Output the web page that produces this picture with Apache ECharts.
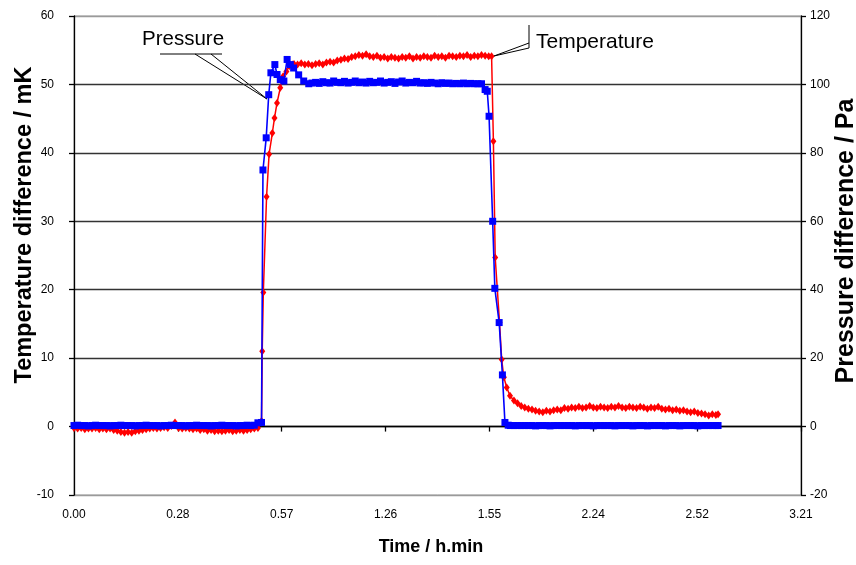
<!DOCTYPE html>
<html>
<head>
<meta charset="utf-8">
<title>Temperature and pressure difference</title>
<script src="https://cdn.jsdelivr.net/npm/echarts@6/dist/echarts.min.js"></script>
<style>
  html, body { margin: 0; padding: 0; background: #fff; }
  #chart { width: 856px; height: 565px; }
</style>
</head>
<body>
<div id="chart"></div>
<script>
// Time axis: minutes since start, labelled in h.min
const xTickLabels = ['0.00', '0.28', '0.57', '1.26', '1.55', '2.24', '2.52', '3.21'];

// Temperature difference (mK), left axis
const tempTime = [
  0, 1, 2, 3, 4, 5, 6, 7, 8, 9,
  10, 11, 12, 13, 14, 15, 16, 17, 18, 19,
  20, 21, 22, 23, 24, 25, 26, 27, 28, 29,
  30, 31, 32, 33, 34, 35, 36, 37, 38, 39,
  40, 41, 42, 43, 44, 45, 46, 47, 48, 49,
  50, 51, 52, 52.2, 52.5, 53.4, 54.1, 55.0, 55.6, 56.3,
  57.2, 58.0, 58.9, 59.7, 60.6, 61, 62, 63, 64, 65,
  66, 67, 68, 69, 70, 71, 72, 73, 74, 75,
  76, 77, 78, 79, 80, 81, 82, 83, 84, 85,
  86, 87, 88, 89, 90, 91, 92, 93, 94, 95,
  96, 97, 98, 99, 100, 101, 102, 103, 104, 105,
  106, 107, 108, 109, 110, 111, 112, 113, 114, 115,
  115.8, 116.3, 116.8, 118.0, 118.6, 119.2, 120.0, 120.9, 122, 123,
  124, 125, 126, 127, 128, 129, 130, 131, 132, 133,
  134, 135, 136, 137, 138, 139, 140, 141, 142, 143,
  144, 145, 146, 147, 148, 149, 150, 151, 152, 153,
  154, 155, 156, 157, 158, 159, 160, 161, 162, 163,
  164, 165, 166, 167, 168, 169, 170, 171, 172, 173,
  174, 175, 176, 177, 178, 178.6
];
const tempVals = [
  -0.2, -0.3, -0.2, -0.4, -0.3, -0.3, -0.2, -0.4, -0.3, -0.4,
  -0.3, -0.5, -0.6, -0.8, -0.9, -0.8, -0.9, -0.7, -0.6, -0.5,
  -0.4, -0.3, -0.2, -0.3, -0.2, -0.1, -0.2, 0.1, 0.6, -0.2,
  -0.3, -0.2, -0.3, -0.4, -0.3, -0.5, -0.4, -0.6, -0.5, -0.7,
  -0.6, -0.7, -0.6, -0.5, -0.7, -0.6, -0.5, -0.6, -0.5, -0.4,
  -0.3, -0.2, 0.8, 11.0, 19.6, 33.6, 39.8, 42.9, 45.1, 47.3,
  49.5, 51.2, 51.9, 52.7, 52.9, 53.0, 52.9, 53.1, 52.9, 53.0,
  52.8, 53.0, 53.1, 52.9, 53.2, 53.3, 53.2, 53.5, 53.6, 53.8,
  53.7, 54.0, 54.1, 54.3, 54.2, 54.4, 54.1, 54.0, 54.2, 53.9,
  54.0, 53.8, 54.0, 53.9, 53.8, 54.0, 53.9, 54.1, 53.8, 54.0,
  53.9, 54.1, 54.0, 53.9, 54.2, 54.0, 54.1, 53.9, 54.2, 54.1,
  54.0, 54.2, 54.1, 54.3, 54.0, 54.2, 54.1, 54.3, 54.2, 54.1,
  54.1, 41.7, 24.7, 15.2, 9.8, 7.2, 5.7, 4.5, 3.8, 3.4,
  3.0, 2.8, 2.6, 2.5, 2.3, 2.2, 2.1, 2.3, 2.2, 2.4,
  2.5, 2.4, 2.7, 2.6, 2.8, 2.7, 2.9, 2.7, 2.8, 3.0,
  2.8, 2.7, 2.9, 2.8, 2.7, 2.9, 2.8, 3.0, 2.8, 2.7,
  2.9, 2.8, 2.7, 2.9, 2.8, 2.6, 2.8, 2.7, 2.9, 2.6,
  2.5, 2.6, 2.4, 2.5, 2.3, 2.4, 2.2, 2.1, 2.2, 2.0,
  1.9, 1.8, 1.6, 1.8, 1.7, 1.8
];

// Pressure difference (Pa), right axis
const presTime = [
  0, 1, 2, 3, 4, 5, 6, 7, 8, 9,
  10, 11, 12, 13, 14, 15, 16, 17, 18, 19,
  20, 21, 22, 23, 24, 25, 26, 27, 28, 29,
  30, 31, 32, 33, 34, 35, 36, 37, 38, 39,
  40, 41, 42, 43, 44, 45, 46, 47, 48, 49,
  50, 51, 52, 52.4, 53.3, 54.0, 54.6, 55.7, 56.3, 57.2,
  58.2, 59.1, 60.0, 60.9, 62.3, 63.7, 65.1, 66, 67, 68,
  69, 70, 71, 72, 73, 74, 75, 76, 77, 78,
  79, 80, 81, 82, 83, 84, 85, 86, 87, 88,
  89, 90, 91, 92, 93, 94, 95, 96, 97, 98,
  99, 100, 101, 102, 103, 104, 105, 106, 107, 108,
  109, 110, 111, 112, 113, 114.0, 114.6, 115.1, 116.1, 116.7,
  117.9, 118.8, 119.5, 120.4, 121, 122, 123, 124, 125, 126,
  127, 128, 129, 130, 131, 132, 133, 134, 135, 136,
  137, 138, 139, 140, 141, 142, 143, 144, 145, 146,
  147, 148, 149, 150, 151, 152, 153, 154, 155, 156,
  157, 158, 159, 160, 161, 162, 163, 164, 165, 166,
  167, 168, 169, 170, 171, 172, 173, 174, 175, 176,
  177, 178, 178.6
];
const presVals = [
  0.3, 0.4, 0.3, 0.3, 0.2, 0.3, 0.4, 0.3, 0.3, 0.3,
  0.2, 0.3, 0.3, 0.4, 0.3, 0.3, 0.3, 0.2, 0.3, 0.3,
  0.4, 0.3, 0.3, 0.3, 0.2, 0.3, 0.3, 0.4, 0.3, 0.3,
  0.3, 0.2, 0.3, 0.3, 0.4, 0.3, 0.3, 0.3, 0.2, 0.3,
  0.3, 0.4, 0.3, 0.3, 0.3, 0.2, 0.3, 0.3, 0.4, 0.3,
  0.4, 1.1, 1.2, 75.0, 84.4, 97.0, 103.4, 105.8, 102.9, 101.4,
  101.0, 107.3, 105.8, 104.8, 102.8, 101.0, 100.2, 100.4, 100.6, 100.3,
  100.8, 100.5, 100.4, 101.0, 100.6, 100.5, 100.9, 100.4, 100.6, 101.0,
  100.5, 100.7, 100.4, 100.9, 100.5, 100.6, 101.0, 100.4, 100.6, 100.8,
  100.3, 100.7, 101.0, 100.4, 100.6, 100.5, 100.9, 100.4, 100.5, 100.3,
  100.6, 100.4, 100.2, 100.5, 100.3, 100.4, 100.2, 100.3, 100.2, 100.4,
  100.2, 100.3, 100.2, 100.2, 100.2, 98.5, 98.0, 90.7, 60.0, 40.4,
  30.4, 15.1, 1.2, 0.4, 0.3, 0.3, 0.3, 0.3, 0.3, 0.3,
  0.3, 0.2, 0.3, 0.3, 0.3, 0.2, 0.3, 0.3, 0.3, 0.3,
  0.3, 0.3, 0.2, 0.3, 0.3, 0.3, 0.3, 0.2, 0.3, 0.3,
  0.3, 0.3, 0.3, 0.2, 0.3, 0.3, 0.3, 0.3, 0.2, 0.3,
  0.3, 0.3, 0.2, 0.3, 0.3, 0.3, 0.3, 0.2, 0.3, 0.3,
  0.3, 0.2, 0.3, 0.3, 0.3, 0.3, 0.2, 0.3, 0.3, 0.3,
  0.3, 0.3, 0.3
];

const pairs = (ts, vs) => ts.map((t, i) => [t, vs[i]]);

const tickFont = "'Liberation Sans Narrow', 'Arial Narrow', 'Liberation Sans', Arial, sans-serif";
const titleFont = "'Liberation Sans', Arial, sans-serif";
const gridGray = '#9a9a9a';
const gridDark = '#333';

const chart = echarts.init(document.getElementById('chart'), null, { renderer: 'canvas' });

const xCommon = {
  type: 'value',
  min: 0,
  max: 201.6,
  interval: 28.8,
  splitLine: { show: false }
};

chart.setOption({
  animation: false,
  backgroundColor: '#fff',
  grid: {
    left: 74, right: 55, top: 16, bottom: 70,
    show: true, borderColor: gridGray, borderWidth: 1,
    containLabel: false
  },
  xAxis: [
    Object.assign({}, xCommon, {
      position: 'bottom',
      axisLine: { show: false, onZero: false },
      axisTick: { show: false },
      axisLabel: {
        margin: 14, color: '#000', fontSize: 12, fontFamily: tickFont,
        formatter: v => xTickLabels[Math.round(v / 28.8)] || ''
      }
    }),
    Object.assign({}, xCommon, {
      position: 'bottom',
      axisLine: { show: true, onZero: true, onZeroAxisIndex: 0, lineStyle: { color: '#000', width: 1.3 } },
      axisTick: { show: true, length: 5, lineStyle: { color: '#000', width: 1.3 } },
      axisLabel: { show: false }
    })
  ],
  yAxis: [
    {
      type: 'value', position: 'left',
      min: -10, max: 60, interval: 10,
      axisLine: { show: true, onZero: false, lineStyle: { color: '#000', width: 1.3 } },
      axisTick: { show: true, length: 5, lineStyle: { color: '#000', width: 1.3 } },
      axisLabel: { margin: 20, color: '#000', fontSize: 12, fontFamily: tickFont },
      splitLine: {
        show: true,
        lineStyle: {
          color: [gridGray, gridDark, gridDark, gridDark, gridDark, gridDark, gridDark, gridGray],
          width: 1.4
        }
      }
    },
    {
      type: 'value', position: 'right',
      min: -20, max: 120, interval: 20,
      axisLine: { show: true, onZero: false, lineStyle: { color: '#000', width: 1.3 } },
      axisTick: { show: true, length: 5, lineStyle: { color: '#000', width: 1.3 } },
      axisLabel: { margin: 9, color: '#000', fontSize: 12, fontFamily: tickFont },
      splitLine: { show: false }
    }
  ],
  series: [
    {
      name: 'Temperature',
      type: 'line',
      xAxisIndex: 0, yAxisIndex: 0,
      data: pairs(tempTime, tempVals),
      symbol: 'diamond', symbolSize: [6, 8],
      showAllSymbol: true,
      itemStyle: { color: '#ff0000' },
      lineStyle: { color: '#ff0000', width: 1.5 },
      z: 3
    },
    {
      name: 'Pressure',
      type: 'line',
      xAxisIndex: 0, yAxisIndex: 1,
      data: pairs(presTime, presVals),
      symbol: 'rect', symbolSize: 7,
      showAllSymbol: true,
      itemStyle: { color: '#0000ff' },
      lineStyle: { color: '#0000ff', width: 1.6 },
      z: 4
    }
  ],
  graphic: [
    // axis titles
    {
      type: 'text', x: 25, y: 225, rotation: Math.PI / 2,
      style: { text: 'Temperature difference / mK', fontSize: 23.5, fontWeight: 'bold', fontFamily: titleFont, fill: '#000', align: 'center', verticalAlign: 'middle' }
    },
    {
      type: 'text', x: 846, y: 241, rotation: Math.PI / 2,
      style: { text: 'Pressure difference / Pa', fontSize: 25, fontWeight: 'bold', fontFamily: titleFont, fill: '#000', align: 'center', verticalAlign: 'middle' }
    },
    {
      type: 'text', x: 431, y: 547,
      style: { text: 'Time / h.min', fontSize: 18, fontWeight: 'bold', fontFamily: titleFont, fill: '#000', align: 'center', verticalAlign: 'middle' }
    },
    // series callouts
    {
      type: 'text', x: 142, y: 39,
      style: { text: 'Pressure', fontSize: 20.5, fontFamily: titleFont, fill: '#000', align: 'left', verticalAlign: 'middle' }
    },
    { type: 'line', shape: { x1: 160, y1: 54, x2: 222, y2: 54 }, style: { stroke: '#000', lineWidth: 1 } },
    { type: 'line', shape: { x1: 195, y1: 54, x2: 267, y2: 99 }, style: { stroke: '#000', lineWidth: 1 } },
    { type: 'line', shape: { x1: 211, y1: 54, x2: 267, y2: 99 }, style: { stroke: '#000', lineWidth: 1 } },
    {
      type: 'text', x: 536, y: 42,
      style: { text: 'Temperature', fontSize: 21, fontFamily: titleFont, fill: '#000', align: 'left', verticalAlign: 'middle' }
    },
    { type: 'line', shape: { x1: 529, y1: 25, x2: 529, y2: 48 }, style: { stroke: '#000', lineWidth: 1 } },
    { type: 'line', shape: { x1: 529, y1: 43, x2: 494, y2: 56 }, style: { stroke: '#000', lineWidth: 1 } },
    { type: 'line', shape: { x1: 529, y1: 48, x2: 494, y2: 56 }, style: { stroke: '#000', lineWidth: 1 } }
  ]
});
</script>
</body>
</html>
